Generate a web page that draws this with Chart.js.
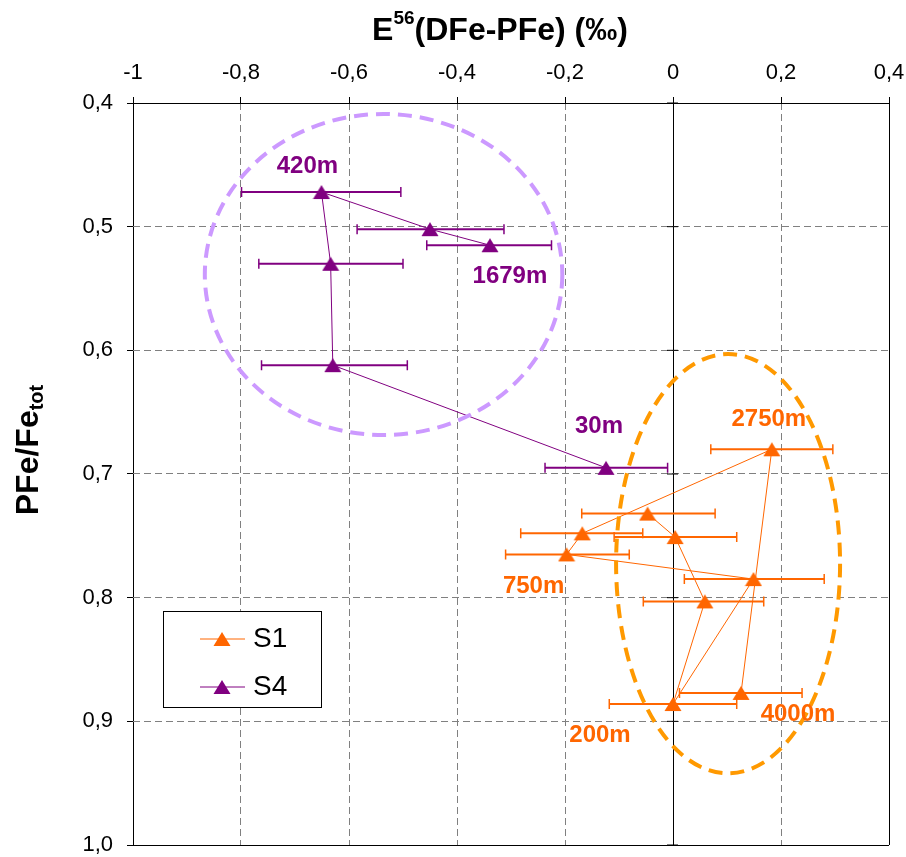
<!DOCTYPE html>
<html>
<head>
<meta charset="utf-8">
<script src="https://cdn.jsdelivr.net/npm/chart.js@4.4.1/dist/chart.umd.min.js"></script>
<style>
  body { margin: 0; background: #fff; }
</style>
</head>
<body>
<canvas id="chart" width="906" height="857"></canvas>
<script>
// S1 samples, in sampling order (x = E56 DFe-PFe, y = PFe/Fetot)
const s1X = [-0.047, 0.004, 0.059, 0.000, 0.149, -0.197, -0.168, 0.183, 0.126];
const s1Y = [0.732, 0.751, 0.803, 0.886, 0.785, 0.765, 0.748, 0.680, 0.877];
const s1Low = [-0.169, -0.109, -0.055, -0.118, 0.021, -0.310, -0.282, 0.070, 0.012];
const s1High = [0.078, 0.118, 0.168, 0.118, 0.280, -0.081, -0.056, 0.296, 0.239];
const s1Labels = ['', '', '', '200m', '', '750m', '', '2750m', '4000m'];

// S4 samples
const s4X = [-0.124, -0.630, -0.634, -0.651, -0.450, -0.339];
const s4Y = [0.695, 0.612, 0.530, 0.472, 0.502, 0.515];
const s4Low = [-0.237, -0.762, -0.767, -0.799, -0.585, -0.456];
const s4High = [-0.010, -0.492, -0.500, -0.504, -0.313, -0.225];
const s4Labels = ['30m', '', '', '420m', '', '1679m'];

// axis ticks
const xTicks = [-1, -0.8, -0.6, -0.4, -0.2, 0, 0.2, 0.4];
const yTicks = [0.4, 0.5, 0.6, 0.7, 0.8, 0.9, 1.0];

// dashed groupings: centre x, centre y, radius x, radius y (data units)
const s1Ellipse = [0.102, 0.7725, 0.2074, 0.1695];
const s4Ellipse = [-0.536, 0.5387, 0.331, 0.1298];

const ORANGE = '#FF6600';
const PURPLE = '#800080';
const FONT = "'Liberation Sans', Arial, sans-serif";

Chart.defaults.font.family = FONT;
Chart.defaults.color = '#000';

function fmtX(v) {
    const r = Math.round(v * 10) / 10;
    if (Number.isInteger(r)) return String(r);
    return r.toFixed(1).replace('.', ',');
}

const fmtY = v => v.toFixed(1).replace('.', ',');

// triangle marker centred on its bounding box, like the spreadsheet one
function triangle(color) {
    const c = document.createElement('canvas');
    c.width = 18;
    c.height = 16;
    const g = c.getContext('2d');
    g.fillStyle = color;
    g.beginPath();
    g.moveTo(9, 1);
    g.lineTo(17.5, 15);
    g.lineTo(0.5, 15);
    g.closePath();
    g.fill();
    return c;
}

const toPoints = (xs, ys) => xs.map((v, i) => ({ x: v, y: ys[i] }));

function isEdge(v, list) {
    return Math.abs(v - list[0]) < 1e-9 || Math.abs(v - list[list.length - 1]) < 1e-9 || Math.abs(v) < 1e-9;
}

const isFrameY = v => Math.abs(v - yTicks[0]) < 1e-9 || Math.abs(v - yTicks[yTicks.length - 1]) < 1e-9;

// no automatic label padding, the layout padding sets the plot box
function fixScale(scale, size) {
    if (scale.isHorizontal()) scale.height = size;
    else scale.width = size;
    scale.paddingLeft = scale.paddingRight = scale.paddingTop = scale.paddingBottom = 0;
}

// horizontal error bars
const errorBars = {
    id: 'errorBars',
    beforeDatasetsDraw(chart) {
        const { ctx, scales: { x, y } } = chart;
        const groups = [[s1Y, s1Low, s1High, ORANGE], [s4Y, s4Low, s4High, PURPLE]];
        ctx.save();
        groups.forEach(([ys, lo, hi, color]) => {
            ctx.strokeStyle = color;
            ys.forEach((v, i) => {
                const py = y.getPixelForValue(v);
                const x1 = x.getPixelForValue(lo[i]);
                const x2 = x.getPixelForValue(hi[i]);
                ctx.lineWidth = 2;
                ctx.beginPath();
                ctx.moveTo(x1, py);
                ctx.lineTo(x2, py);
                ctx.stroke();
                ctx.lineWidth = 1.5;
                ctx.beginPath();
                ctx.moveTo(x1, py - 5);
                ctx.lineTo(x1, py + 5);
                ctx.moveTo(x2, py - 5);
                ctx.lineTo(x2, py + 5);
                ctx.stroke();
            });
        });
        // cross ticks on the zero line
        const x0 = x.getPixelForValue(0);
        ctx.strokeStyle = '#000';
        ctx.lineWidth = 1;
        yTicks.forEach(v => {
            const py = y.getPixelForValue(v);
            ctx.beginPath();
            ctx.moveTo(x0 - 6, py);
            ctx.lineTo(x0 + 5, py);
            ctx.stroke();
        });
        ctx.restore();
    }
};

// dashed ellipses and depth labels
const labelOffsets = {
    '30m': [-7, -41], '420m': [-14, -26], '1679m': [20, 31],
    '200m': [-73, 31], '750m': [-33, 32], '2750m': [-3, -30], '4000m': [57, 21]
};

const annotations = {
    id: 'annotations',
    afterDatasetsDraw(chart) {
        const { ctx, scales: { x, y } } = chart;
        ctx.save();
        [[s4Ellipse, '#CC99FF'], [s1Ellipse, '#FF9900']].forEach(([e, color]) => {
            const cx = x.getPixelForValue(e[0]);
            const cy = y.getPixelForValue(e[1]);
            const rx = Math.abs(x.getPixelForValue(e[0] + e[2]) - cx);
            const ry = Math.abs(y.getPixelForValue(e[1] + e[3]) - cy);
            ctx.strokeStyle = color;
            ctx.lineWidth = 4;
            ctx.setLineDash([14, 8]);
            ctx.beginPath();
            ctx.ellipse(cx, cy, rx, ry, 0, 0, Math.PI * 2);
            ctx.stroke();
        });
        ctx.setLineDash([]);
        ctx.font = 'bold 24px ' + FONT;
        ctx.textAlign = 'center';
        ctx.textBaseline = 'middle';
        [[s1X, s1Y, s1Labels, ORANGE], [s4X, s4Y, s4Labels, PURPLE]].forEach(([xs, ys, labels, color]) => {
            ctx.fillStyle = color;
            labels.forEach((t, i) => {
                if (!t) return;
                const off = labelOffsets[t];
                ctx.fillText(t, x.getPixelForValue(xs[i]) + off[0], y.getPixelForValue(ys[i]) + off[1]);
            });
        });
        ctx.restore();
    }
};

function drawRich(ctx, parts, cx, base) {
    let w = 0;
    parts.forEach(p => { ctx.font = p[1]; w += ctx.measureText(p[0]).width; });
    let px = cx - w / 2;
    parts.forEach(p => {
        ctx.font = p[1];
        ctx.fillText(p[0], px, base + p[2]);
        px += ctx.measureText(p[0]).width;
    });
}

// axis titles and legend box
const extras = {
    id: 'extras',
    afterDraw(chart) {
        const { ctx, chartArea } = chart;
        ctx.save();
        ctx.fillStyle = '#000';
        ctx.textAlign = 'left';
        ctx.textBaseline = 'alphabetic';
        drawRich(ctx, [
            ['E', 'bold 32px ' + FONT, 0],
            ['56', 'bold 19px ' + FONT, -16],
            ['(DFe-PFe) (\u2030)', 'bold 32px ' + FONT, 0]
        ], 500, 40);

        ctx.save();
        ctx.translate(38, 450);
        ctx.rotate(-Math.PI / 2);
        drawRich(ctx, [
            ['PFe/Fe', 'bold 32px ' + FONT, 0],
            ['tot', 'bold 20px ' + FONT, 5]
        ], 0, 0);
        ctx.restore();

        // legend
        const lx = chartArea.left + 30;
        const ly = chartArea.top + 508;
        ctx.fillStyle = '#fff';
        ctx.fillRect(lx, ly, 159, 97);
        ctx.strokeStyle = '#000';
        ctx.lineWidth = 1;
        ctx.strokeRect(lx + 0.5, ly + 0.5, 158, 96);
        chart.data.datasets.forEach((ds, i) => {
            const yy = ly + 28 + i * 48;
            ctx.strokeStyle = ds.borderColor;
            ctx.beginPath();
            ctx.moveTo(lx + 37, yy);
            ctx.lineTo(lx + 82, yy);
            ctx.stroke();
            ctx.drawImage(ds.pointStyle, lx + 59 - 9, yy - 8);
            ctx.fillStyle = '#000';
            ctx.font = '28px ' + FONT;
            ctx.textBaseline = 'middle';
            ctx.fillText(ds.label, lx + 90, yy);
        });
        ctx.restore();
    }
};

new Chart(document.getElementById('chart'), {
    type: 'scatter',
    data: {
        datasets: [
            {
                label: 'S1',
                data: toPoints(s1X, s1Y),
                showLine: true,
                borderColor: ORANGE,
                backgroundColor: ORANGE,
                borderWidth: 1,
                pointStyle: triangle(ORANGE)
            },
            {
                label: 'S4',
                data: toPoints(s4X, s4Y),
                showLine: true,
                borderColor: PURPLE,
                backgroundColor: PURPLE,
                borderWidth: 1,
                pointStyle: triangle(PURPLE)
            }
        ]
    },
    options: {
        responsive: false,
        animation: false,
        layout: { padding: { left: 0, right: 17, top: 0, bottom: 12 } },
        plugins: { legend: { display: false }, tooltip: { enabled: false } },
        scales: {
            x: {
                type: 'linear',
                position: 'top',
                min: -1,
                max: 0.4,
                afterBuildTicks: scale => { scale.ticks = xTicks.map(v => ({ value: v })); },
                afterFit: scale => fixScale(scale, 103),
                ticks: { font: { size: 22 }, padding: 11, callback: v => fmtX(v) },
                grid: {
                    color: c => isEdge(c.tick.value, xTicks) ? '#000' : '#808080',
                    tickColor: '#000',
                    tickLength: 6
                },
                border: { display: false, dash: c => isEdge(c.tick.value, xTicks) ? [] : [7, 4] }
            },
            y: {
                type: 'linear',
                reverse: true,
                min: 0.4,
                max: 1.0,
                afterBuildTicks: scale => { scale.ticks = yTicks.map(v => ({ value: v })); },
                afterFit: scale => fixScale(scale, 133),
                ticks: { font: { size: 22 }, padding: 14, callback: v => fmtY(v) },
                grid: {
                    color: c => isFrameY(c.tick.value) ? '#000' : '#808080',
                    tickColor: '#000',
                    tickLength: 6
                },
                border: { display: false, dash: c => isFrameY(c.tick.value) ? [] : [7, 4] }
            }
        }
    },
    plugins: [errorBars, annotations, extras]
});
</script>
</body>
</html>
